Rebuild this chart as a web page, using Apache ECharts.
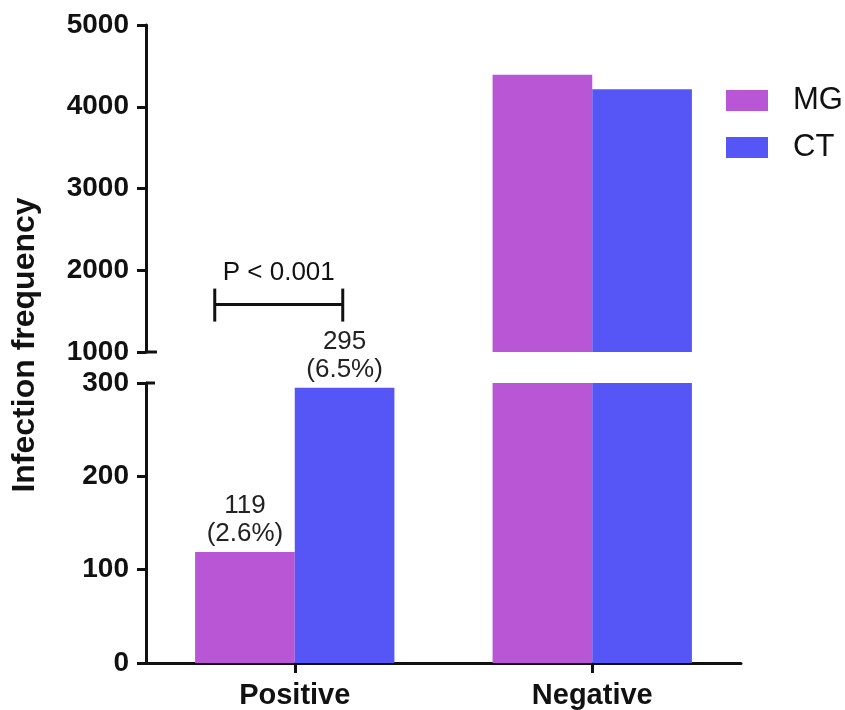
<!DOCTYPE html>
<html>
<head>
<meta charset="utf-8">
<script src="https://cdn.jsdelivr.net/npm/echarts@6/dist/echarts.min.js"></script>
<style>
  html, body { margin: 0; padding: 0; background: #fff; }
  #chart { width: 845px; height: 710px; }
</style>
</head>
<body>
<div id="chart"></div>
<script>
// data
const categories = ['Positive', 'Negative'];
const mgValues = [119, 4390];
const ctValues = [295, 4215];
const mgShares = ['2.6%', null];
const ctShares = ['6.5%', null];
const pValueText = 'P < 0.001';

// broken y axis: two ranges
const lowerRange = { min: 0, max: 300, interval: 100 };
const upperRange = { min: 1000, max: 5000, interval: 1000 };

const FONT = 'Liberation Sans, Arial, sans-serif';
const INK = '#111';
const MG_COLOR = '#b856d6';
const CT_COLOR = '#5656f7';

const chart = echarts.init(document.getElementById('chart'));

const axisLine = { show: true, lineStyle: { color: INK, width: 3 } };
const yLabel = {
  fontFamily: FONT, fontSize: 28, fontWeight: 'bold', color: INK, margin: 17,
  formatter: (v) => String(v)
};

function labelFor(shares, values) {
  return {
    show: true,
    position: 'top',
    distance: 4,
    fontFamily: FONT,
    fontSize: 26,
    lineHeight: 28,
    color: '#222',
    formatter: (p) => shares[p.dataIndex] ? values[p.dataIndex] + '\n(' + shares[p.dataIndex] + ')' : ''
  };
}

// upper panel only gets values that reach into it
const onlyUpper = (arr) => arr.map((v) => (v >= upperRange.min ? v : '-'));

const option = {
  animation: false,
  backgroundColor: '#fff',
  legend: {
    data: ['MG', 'CT'],
    orient: 'vertical',
    left: 726,
    top: 85,
    padding: 0,
    itemWidth: 42,
    itemHeight: 21,
    itemGap: 16,
    icon: 'rect',
    textStyle: { fontFamily: FONT, fontSize: 31, color: INK, padding: [0, 0, 0, 20] }
  },
  grid: [
    { left: 146, width: 595, top: 25, height: 327 },
    { left: 146, width: 595, top: 383, height: 280 }
  ],
  xAxis: [
    {
      type: 'category', gridIndex: 0, data: categories,
      show: false
    },
    {
      type: 'category', gridIndex: 1, data: categories,
      axisLine: axisLine,
      axisTick: { show: true, alignWithLabel: true, length: 10, lineStyle: { color: INK, width: 3 } },
      axisLabel: { fontFamily: FONT, fontSize: 29, fontWeight: 'bold', color: INK, margin: 18 }
    }
  ],
  yAxis: [
    {
      type: 'value', gridIndex: 0,
      min: upperRange.min, max: upperRange.max, interval: upperRange.interval,
      axisLine: axisLine,
      axisTick: { show: true, length: 9, lineStyle: { color: INK, width: 3 } },
      axisLabel: yLabel,
      splitLine: { show: false }
    },
    {
      type: 'value', gridIndex: 1,
      min: lowerRange.min, max: lowerRange.max, interval: lowerRange.interval,
      axisLine: axisLine,
      axisTick: { show: true, length: 9, lineStyle: { color: INK, width: 3 } },
      axisLabel: yLabel,
      splitLine: { show: false }
    }
  ],
  series: [
    {
      name: 'MG', type: 'bar', xAxisIndex: 1, yAxisIndex: 1,
      data: mgValues, itemStyle: { color: MG_COLOR },
      barGap: '0%', barCategoryGap: '33%', clip: true,
      label: labelFor(mgShares, mgValues)
    },
    {
      name: 'CT', type: 'bar', xAxisIndex: 1, yAxisIndex: 1,
      data: ctValues, itemStyle: { color: CT_COLOR },
      barGap: '0%', barCategoryGap: '33%', clip: true,
      label: labelFor(ctShares, ctValues)
    },
    {
      name: 'MG', type: 'bar', xAxisIndex: 0, yAxisIndex: 0,
      data: onlyUpper(mgValues), itemStyle: { color: MG_COLOR },
      barGap: '0%', barCategoryGap: '33%', clip: true
    },
    {
      name: 'CT', type: 'bar', xAxisIndex: 0, yAxisIndex: 0,
      data: onlyUpper(ctValues), itemStyle: { color: CT_COLOR },
      barGap: '0%', barCategoryGap: '33%', clip: true
    }
  ]
};

chart.setOption(option);

// annotations: axis title, break marks, significance bracket
const lowerTop = chart.convertToPixel({ xAxisIndex: 1, yAxisIndex: 1 }, [0, lowerRange.max]);
const upperBottom = chart.convertToPixel({ xAxisIndex: 0, yAxisIndex: 0 }, [0, upperRange.min]);
const bracketAt = chart.convertToPixel({ xAxisIndex: 0, yAxisIndex: 0 }, ['Positive', 1580]);
const axisX = 146;
const bx0 = bracketAt[0] - 80, bx1 = bracketAt[0] + 48, by = bracketAt[1];
const lineStyle = { stroke: INK, lineWidth: 3 };

chart.setOption({
  graphic: [
    {
      type: 'text', x: 25, y: 345, rotation: Math.PI / 2,
      style: { text: 'Infection frequency', font: 'bold 32px ' + FONT, fill: INK, align: 'center', verticalAlign: 'middle' }
    },
    { type: 'line', shape: { x1: axisX, y1: upperBottom[1], x2: axisX + 11, y2: upperBottom[1] }, style: lineStyle },
    { type: 'line', shape: { x1: axisX, y1: lowerTop[1], x2: axisX + 9, y2: lowerTop[1] }, style: lineStyle },
    { type: 'line', shape: { x1: bx0, y1: by, x2: bx1, y2: by }, style: lineStyle },
    { type: 'line', shape: { x1: bx0, y1: by - 16, x2: bx0, y2: by + 17 }, style: lineStyle },
    { type: 'line', shape: { x1: bx1, y1: by - 16, x2: bx1, y2: by + 17 }, style: lineStyle },
    {
      type: 'text', x: (bx0 + bx1) / 2, y: by - 32,
      style: { text: pValueText, font: '26px ' + FONT, fill: INK, align: 'center', verticalAlign: 'middle' }
    }
  ]
});
</script>
</body>
</html>
